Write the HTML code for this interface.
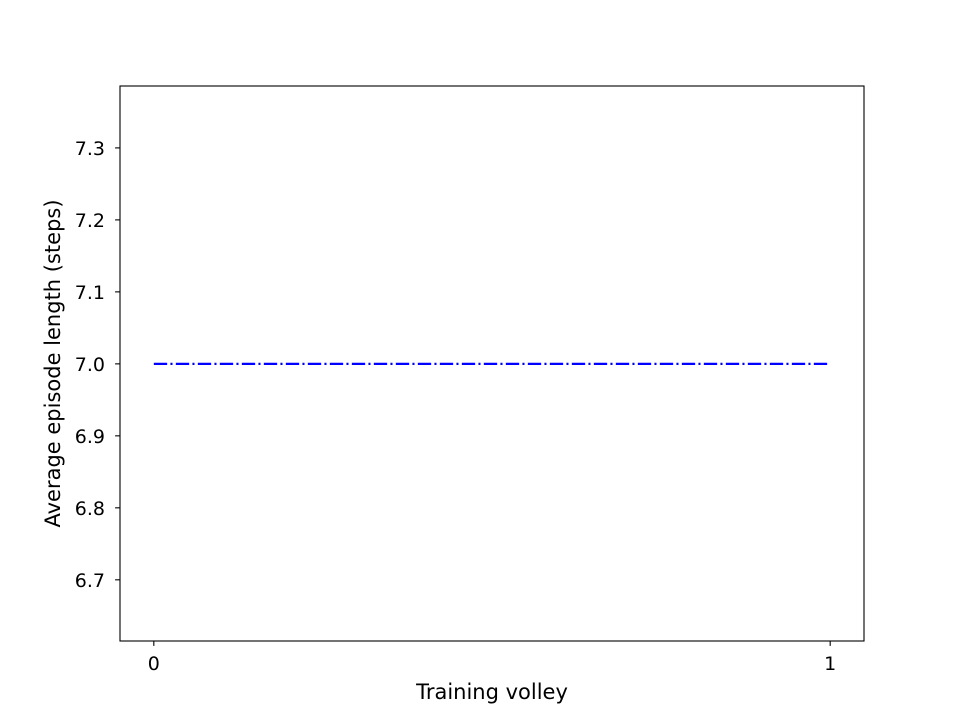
<!DOCTYPE html>
<html><head><meta charset="utf-8"><style>
body{margin:0;background:#fff;}
svg text{font-family:"DejaVu Sans","Liberation Sans",sans-serif;font-size:19px;fill:#000;}
svg text.title{font-size:21px;}
</style></head><body>
<svg width="960" height="720" id="chart">
<rect width="960" height="720" fill="#fff"/>
<g id="plot"></g>
</svg>
<script>
const xValues=[0,1];
const yValues=[7.0,7.0];
const xTicks=[0,1];
const yTicks=[6.7,6.8,6.9,7.0,7.1,7.2,7.3];
const L=120,R=864,T=86,B=641;
const xMin=-0.05,xMax=1.05,yMin=6.615,yMax=7.386;
function sx(v){return L+(v-xMin)/(xMax-xMin)*(R-L);}
function sy(v){return B-(v-yMin)/(yMax-yMin)*(B-T);}
const NS='http://www.w3.org/2000/svg';
const g=document.getElementById('plot');
function mk(t,a){const e=document.createElementNS(NS,t);for(const k in a)e.setAttribute(k,a[k]);g.appendChild(e);return e;}
const pts=xValues.map((x,i)=>sx(x)+','+sy(yValues[i])).join(' ');
const line=mk('polyline',{points:pts,fill:'none',stroke:'#0000ff','stroke-width':2.2,'stroke-dasharray':'13.3,3.3,2.1,3.3'});


const fr=mk('rect',{x:L,y:T,width:R-L,height:B-T,fill:'none',stroke:'#000','stroke-width':1.1});


xTicks.forEach(v=>{
 const x=sx(v);
 const t=mk('line',{x1:x,x2:x,y1:B,y2:B+4.9,stroke:'#000','stroke-width':1.1});
 
 
 const l=mk('text',{x:x,y:B+29,'text-anchor':'middle'});l.textContent=v;
 
 
});
yTicks.forEach(v=>{
 const y=sy(v);
 const t=mk('line',{x1:L-4.9,x2:L,y1:y,y2:y,stroke:'#000','stroke-width':1.1});
 
 
 const l=mk('text',{x:L-15,y:y+7,'text-anchor':'end'});l.textContent=v.toFixed(1);
 
 
});
const xt=mk('text',{x:(L+R)/2,y:699,'text-anchor':'middle','class':'title'});xt.textContent='Training volley';


const yt=mk('text',{x:0,y:0,'text-anchor':'middle','class':'title',transform:'translate(60,'+((T+B)/2)+') rotate(-90)'});yt.textContent='Average episode length (steps)';


</script>
</body></html>
